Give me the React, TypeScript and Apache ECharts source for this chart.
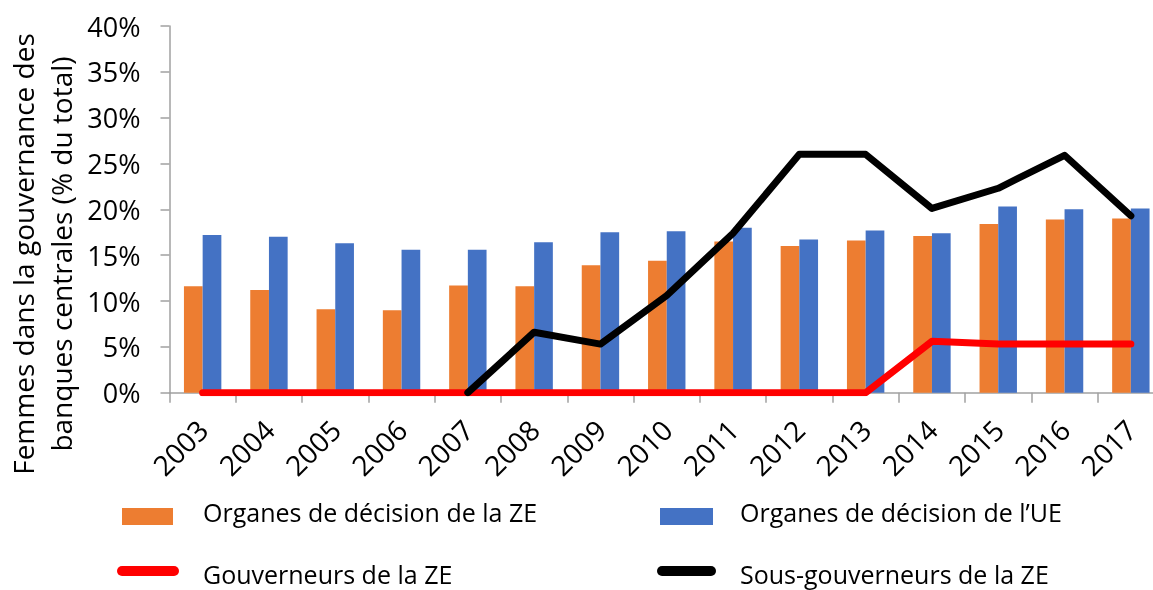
import React, { useEffect, useRef } from "react";
import * as echarts from "echarts";

const categories = ["2003", "2004", "2005", "2006", "2007", "2008", "2009", "2010", "2011", "2012", "2013", "2014", "2015", "2016", "2017"];
const organesZE = [11.6, 11.2, 9.1, 9.0, 11.7, 11.6, 13.9, 14.4, 16.5, 16.0, 16.6, 17.1, 18.4, 18.9, 19.0];
const organesUE = [17.2, 17.0, 16.3, 15.6, 15.6, 16.4, 17.5, 17.6, 18.0, 16.7, 17.7, 17.4, 20.3, 20.0, 20.1];
const gouverneursZE = [0, 0, 0, 0, 0, 0, 0, 0, 0, 0, 0, 5.6, 5.3, 5.3, 5.3];
const sousGouverneursZE = [null, null, null, null, 0, 6.6, 5.3, 10.6, 17.4, 26.0, 26.0, 20.1, 22.3, 25.9, 19.3];
const yTicks = { min: 0, max: 40, interval: 5 };
const titleLines = ["Femmes dans la gouvernance des", "banques centrales (% du total)"];
const names = ["Organes de décision de la ZE", "Organes de décision de l\u2019UE", "Gouverneurs de la ZE", "Sous-gouverneurs de la ZE"];
const colors = ["#ED7D31", "#4472C4", "#FF0000", "#000000"];

const FONT = "'Open Sans', 'Noto Sans', sans-serif";

export default function App() {
  const ref = useRef<HTMLDivElement>(null);
  useEffect(() => {
    if (!ref.current) return;
    const chart = echarts.init(ref.current, null, { renderer: "svg" });
    const legendTextStyle = (text: string) => ({ text, fontSize: 25, fontFamily: FONT, fill: "#000", textAlign: "left", textVerticalAlign: "middle" });
    chart.setOption({
      animation: false,
      textStyle: { fontFamily: FONT },
      grid: { left: 169.5, top: 26, bottom: 197.3, right: 0, containLabel: false },
      legend: { show: false, data: names },
      xAxis: {
        type: "category",
        data: categories,
        boundaryGap: true,
        axisLine: { lineStyle: { color: "#a0a0a0", width: 1.5 } },
        axisTick: { show: true, length: 10, lineStyle: { color: "#a0a0a0", width: 1.5 } },
        axisLabel: { rotate: 45, margin: 32, fontSize: 28, color: "#000", fontFamily: FONT, interval: 0 },
      },
      yAxis: {
        type: "value",
        min: yTicks.min,
        max: yTicks.max,
        interval: yTicks.interval,
        axisLine: { show: true, lineStyle: { color: "#a0a0a0", width: 1.5 } },
        axisTick: { show: true, length: 9, lineStyle: { color: "#a0a0a0", width: 1.5 } },
        splitLine: { show: false },
        axisLabel: { margin: 29, fontSize: 27, color: "#000", fontFamily: FONT, formatter: "{value}%" },
      },
      graphic: [
        { type: "text", x: 23, y: 254, rotation: Math.PI / 2, style: { text: titleLines[0], fontSize: 28, fontFamily: FONT, fill: "#000", textAlign: "center", textVerticalAlign: "middle" } },
        { type: "text", x: 61, y: 254, rotation: Math.PI / 2, style: { text: titleLines[1], fontSize: 28, fontFamily: FONT, fill: "#000", textAlign: "center", textVerticalAlign: "middle" } },
        { type: "rect", shape: { x: 122, y: 508, width: 51, height: 17 }, style: { fill: colors[0] } },
        { type: "text", x: 203, y: 512, style: legendTextStyle(names[0]) },
        { type: "rect", shape: { x: 660, y: 508, width: 53, height: 17 }, style: { fill: colors[1] } },
        { type: "text", x: 740, y: 512, style: legendTextStyle(names[1]) },
        { type: "line", shape: { x1: 122, y1: 571, x2: 174, y2: 571 }, style: { stroke: colors[2], lineWidth: 10, lineCap: "round" } },
        { type: "text", x: 203, y: 574, style: legendTextStyle(names[2]) },
        { type: "line", shape: { x1: 662, y1: 571, x2: 711, y2: 571 }, style: { stroke: colors[3], lineWidth: 10, lineCap: "round" } },
        { type: "text", x: 740, y: 574, style: legendTextStyle(names[3]) },
      ],
      series: [
        { name: names[0], type: "bar", data: organesZE, barWidth: 18.7, barGap: "0%", itemStyle: { color: colors[0] } },
        { name: names[1], type: "bar", data: organesUE, barWidth: 18.7, barGap: "0%", itemStyle: { color: colors[1] } },
        { name: names[2], type: "line", data: gouverneursZE, showSymbol: false, symbol: "none", itemStyle: { color: colors[2] }, lineStyle: { color: colors[2], width: 7, cap: "round", join: "round" } },
        { name: names[3], type: "line", data: sousGouverneursZE, showSymbol: false, symbol: "none", itemStyle: { color: colors[3] }, lineStyle: { color: colors[3], width: 7, cap: "round", join: "round" } },
      ],
    });
    return () => chart.dispose();
  }, []);
  return (
    <div style={{ position: "fixed", left: 0, top: 0, width: 1153, height: 590, overflow: "hidden" }}>
      <div ref={ref} style={{ width: 1164, height: 590 }} />
    </div>
  );
}
